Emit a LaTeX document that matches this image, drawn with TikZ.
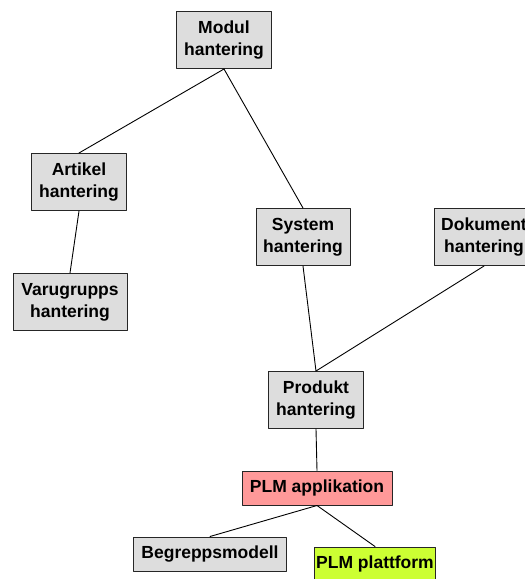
\documentclass[tikz,border=0pt]{standalone}
\usepackage{fontspec}
\setmainfont{Liberation Sans}
\definecolor{boxgray}{HTML}{DDDDDD}
\definecolor{apppink}{HTML}{FF9999}
\definecolor{platgreen}{HTML}{CCFF33}
\begin{document}
\begin{tikzpicture}[x=1pt, y=-1pt, line join=round, line cap=round,
		font=\fontsize{17.5}{22}\selectfont\bfseries,
		modbox/.style={draw=black!85, line width=1pt, fill=boxgray, align=center, inner sep=2pt, minimum height=57pt},
		flatbox/.style={modbox, minimum height=34pt},
		link/.style={line width=0.9pt}]
		\useasboundingbox (0,0) rectangle (525,579);
		\clip (0,0) rectangle (525,579);
		\node[modbox, minimum width=95pt] (modul) at (224,40) {Modul\\hantering};
		\node[modbox, minimum width=95pt] (artikel) at (79,182) {Artikel\\hantering};
		\node[modbox, minimum width=114pt] (varugrupp) at (70,302) {Varugrupps\\hantering};
		\node[modbox, minimum width=94pt] (system) at (303,237) {System\\hantering};
		\node[modbox, minimum width=100pt] (dokument) at (484,237) {Dokument\\hantering};
		\node[modbox, minimum width=95pt] (produkt) at (316,400) {Produkt\\hantering};
		\node[flatbox, fill=apppink, minimum width=150pt] (plmapp) at (317,488) {PLM applikation};
		\node[flatbox, minimum width=153pt] (begrepp) at (210,554) {Begreppsmodell};
		\node[flatbox, fill=platgreen, minimum width=113pt] (plattform) at (375,564) {PLM plattform};
		\draw[link] (modul.south) -- (artikel.north);
		\draw[link] (modul.south) -- (system.north);
		\draw[link] (artikel.south) -- (varugrupp.north);
		\draw[link] (system.south) -- (produkt.north);
		\draw[link] (dokument.south) -- (produkt.north);
		\draw[link] (produkt.south) -- (plmapp.north);
		\draw[link] (plmapp.south) -- (begrepp.north);
		\draw[link] (plmapp.south) -- (plattform.north);
\end{tikzpicture}
\end{document}
